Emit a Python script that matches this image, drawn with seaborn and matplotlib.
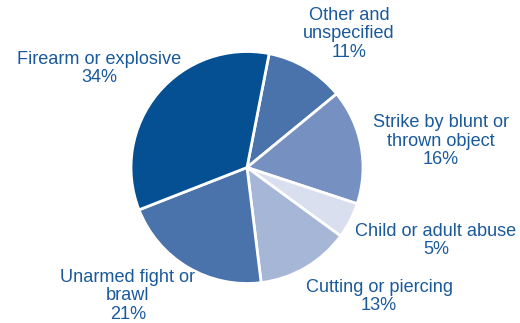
import matplotlib
matplotlib.use("Agg")
import matplotlib.pyplot as plt
import seaborn as sns

sns.set_theme(style="white")
plt.rcParams["font.family"] = ["Liberation Sans", "DejaVu Sans"]

# Share of cases by mechanism, clockwise from the top
categories = ["Other and\nunspecified", "Strike by blunt or\nthrown object",
              "Child or adult abuse", "Cutting or piercing",
              "Unarmed fight or\nbrawl", "Firearm or explosive"]
shares = [11, 16, 5, 13, 21, 34]
colors = ["#4a73ab", "#7690c1", "#d9dfee", "#a6b6d7", "#4a73ab", "#045093"]

# label anchor points (figure pixels, origin bottom-left)
label_xy = [(349, 289), (441, 182), (436, 82.5), (379, 26.5), (128, 27), (99, 254.5)]

W, H = 520, 323
fig = plt.figure(figsize=(W / 100, H / 100), dpi=100)
ax = fig.add_axes([0, 0, 1, 1])
ax.set_xlim(0, W)
ax.set_ylim(0, H)
ax.set_aspect("equal")
ax.axis("off")

ax.pie(shares, colors=colors, startangle=79, counterclock=False,
       center=(247, 155.5), radius=116,
       wedgeprops=dict(edgecolor="white", linewidth=2.0))
ax.set_xlim(0, W)
ax.set_ylim(0, H)

text_color = "#1a5a9c"
for name, val, (x, y) in zip(categories, shares, label_xy):
    ax.text(x, y, f"{name}\n{val}%", ha="center", va="center",
            fontsize=13.1, color=text_color, linespacing=1.13)

fig.savefig("out.png", dpi=100)
